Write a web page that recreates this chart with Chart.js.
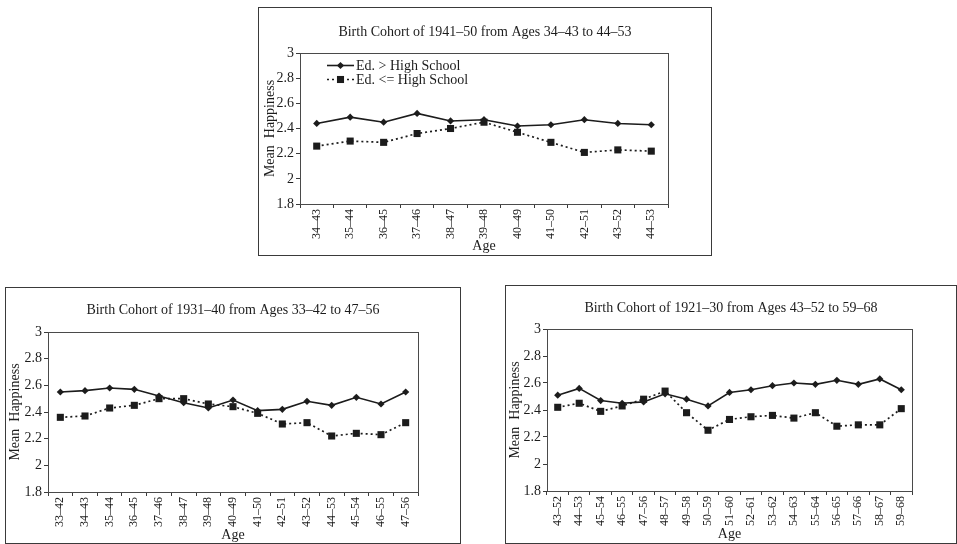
<!DOCTYPE html>
<html>
<head>
<meta charset="utf-8">
<title>Mean Happiness by Birth Cohort and Education</title>
<script src="https://cdn.jsdelivr.net/npm/chart.js@4.4.1/dist/chart.umd.min.js"></script>
<style>
  html, body { margin: 0; padding: 0; background: #fff; }
  body { width: 957px; height: 544px; position: relative; overflow: hidden; }
  .panel { position: absolute; border: 1px solid #3a3a3a; box-sizing: border-box; background: #fff; }
  .panel canvas { display: block; }
</style>
</head>
<body>

<div class="panel" style="left:258px; top:7px; width:454px; height:249px;">
  <canvas id="cohort1941" width="452" height="247"></canvas>
</div>
<div class="panel" style="left:5px; top:287px; width:456px; height:257px;">
  <canvas id="cohort1931" width="454" height="255"></canvas>
</div>
<div class="panel" style="left:505px; top:285px; width:452px; height:259px;">
  <canvas id="cohort1921" width="450" height="257"></canvas>
</div>

<script>
// Chart data
const seriesLabels = ['Ed. > High School', 'Ed. <= High School'];
const yTicks = [1.8, 2, 2.2, 2.4, 2.6, 2.8, 3];

const title1941 = 'Birth Cohort of 1941\u201350 from Ages 34\u201343 to 44\u201353';
const ages1941 = ['34\u201343', '35\u201344', '36\u201345', '37\u201346', '38\u201347', '39\u201348',
                  '40\u201349', '41\u201350', '42\u201351', '43\u201352', '44\u201353'];
const above1941 = [2.44, 2.49, 2.45, 2.52, 2.46, 2.47, 2.42, 2.43, 2.47, 2.44, 2.43];
const below1941 = [2.26, 2.30, 2.29, 2.36, 2.40, 2.45, 2.37, 2.29, 2.21, 2.23, 2.22];

const title1931 = 'Birth Cohort of 1931\u201340 from Ages 33\u201342 to 47\u201356';
const ages1931 = ['33\u201342', '34\u201343', '35\u201344', '36\u201345', '37\u201346', '38\u201347',
                  '39\u201348', '40\u201349', '41\u201350', '42\u201351', '43\u201352', '44\u201353',
                  '45\u201354', '46\u201355', '47\u201356'];
const above1931 = [2.55, 2.56, 2.58, 2.57, 2.52, 2.47, 2.43, 2.49, 2.41, 2.42, 2.48, 2.45, 2.51, 2.46, 2.55];
const below1931 = [2.36, 2.37, 2.43, 2.45, 2.50, 2.50, 2.46, 2.44, 2.39, 2.31, 2.32, 2.22, 2.24, 2.23, 2.32];

const title1921 = 'Birth Cohort of 1921\u201330 from Ages 43\u201352 to 59\u201368';
const ages1921 = ['43\u201352', '44\u201353', '45\u201354', '46\u201355', '47\u201356', '48\u201357',
                  '49\u201358', '50\u201359', '51\u201360', '52\u201361', '53\u201362', '54\u201363',
                  '55\u201364', '56\u201365', '57\u201366', '58\u201367', '59\u201368'];
const above1921 = [2.51, 2.56, 2.47, 2.45, 2.46, 2.52, 2.48, 2.43, 2.53, 2.55, 2.58, 2.60, 2.59, 2.62, 2.59, 2.63, 2.55];
const below1921 = [2.42, 2.45, 2.39, 2.43, 2.48, 2.54, 2.38, 2.25, 2.33, 2.35, 2.36, 2.34, 2.38, 2.28, 2.29, 2.29, 2.41];

const SERIF = '"Liberation Serif", "DejaVu Serif", serif';
const INK = '#1c1c1c';

// box round the plot area (the scan has a frame on all four sides)
const plotFrame = {
    id: 'plotFrame',
    afterDraw(chart) {
        const { ctx, chartArea: a } = chart;
        ctx.save();
        ctx.strokeStyle = '#4a4a4a';
        ctx.lineWidth = 1;
        ctx.strokeRect(Math.round(a.left) + 0.5, Math.round(a.top) + 0.5,
                       Math.round(a.right - a.left), Math.round(a.bottom - a.top));
        ctx.restore();
    }
};

// legend drawn inside the plot: short line with the marker on it, then the label
const insideLegend = {
    id: 'insideLegend',
    afterDatasetsDraw(chart, args, opts) {
        if (!opts.show) return;
        const { ctx, chartArea: a } = chart;
        ctx.save();
        chart.data.datasets.forEach((ds, i) => {
            const y = a.top + opts.rows[i];
            const x0 = a.left + opts.lineStart;
            const x1 = a.left + opts.lineEnd;
            ctx.strokeStyle = ds.borderColor;
            ctx.lineWidth = ds.borderWidth;
            ctx.setLineDash(ds.borderDash || []);
            ctx.beginPath();
            ctx.moveTo(x0, y);
            ctx.lineTo(x1, y);
            ctx.stroke();
            ctx.setLineDash([]);
            ctx.fillStyle = ds.pointBackgroundColor;
            Chart.helpers.drawPoint(ctx, {
                pointStyle: ds.pointStyle, radius: ds.pointRadius, rotation: 0, borderWidth: 0
            }, (x0 + x1) / 2, y);
            ctx.fillStyle = INK;
            ctx.font = '14px ' + SERIF;
            ctx.textBaseline = 'middle';
            ctx.textAlign = 'left';
            ctx.fillText(ds.label, a.left + opts.textStart, y + 1);
        });
        ctx.restore();
    }
};

function makeCohortChart(canvasId, title, ages, above, below, box) {
    const ctx = document.getElementById(canvasId).getContext('2d');
    return new Chart(ctx, {
        type: 'line',
        data: {
            labels: ages,
            datasets: [{
                label: seriesLabels[0],
                data: above,
                borderColor: INK,
                borderWidth: 1.6,
                pointStyle: 'rectRot',
                pointRadius: 3.6,
                pointBackgroundColor: INK,
                pointBorderWidth: 0,
                tension: 0
            }, {
                label: seriesLabels[1],
                data: below,
                borderColor: INK,
                borderWidth: 1.7,
                borderDash: [2, 3],
                pointStyle: 'rect',
                pointRadius: 5,
                pointBackgroundColor: INK,
                pointBorderWidth: 0,
                tension: 0
            }]
        },
        options: {
            responsive: false,
            animation: false,
            layout: { padding: 0 },
            plugins: {
                legend: { display: false },
                tooltip: { enabled: false },
                title: {
                    display: true,
                    text: title,
                    color: INK,
                    font: { family: SERIF, size: 14, weight: 'normal', lineHeight: 1.2 },
                    padding: { top: box.titleCenter - 8.4, bottom: box.plotTop - box.titleCenter - 8.4 }
                },
                insideLegend: box.legend || { show: false }
            },
            scales: {
                x: {
                    type: 'category',
                    offset: true,
                    afterFit: s => { s.height = box.xHeight; },
                    grid: {
                        display: true,
                        offset: true,
                        drawOnChartArea: false,
                        drawTicks: true,
                        tickLength: 4,
                        color: '#3a3a3a'
                    },
                    border: { display: true, color: '#3a3a3a' },
                    ticks: {
                        autoSkip: false,
                        minRotation: 90,
                        maxRotation: 90,
                        padding: 1,
                        color: INK,
                        font: { family: SERIF, size: 12 }
                    },
                    title: {
                        display: true,
                        text: 'Age',
                        color: INK,
                        padding: { top: 0, bottom: box.ageOffset - 8.4 },
                        font: { family: SERIF, size: 14, lineHeight: 1.2 }
                    }
                },
                y: {
                    min: 1.8,
                    max: 3,
                    afterFit: s => { s.width = box.yWidth; },
                    afterBuildTicks: s => { s.ticks = yTicks.map(v => ({ value: v })); },
                    grid: {
                        display: true,
                        drawOnChartArea: false,
                        drawTicks: true,
                        tickLength: 4,
                        color: '#3a3a3a'
                    },
                    border: { display: true, color: '#3a3a3a' },
                    ticks: {
                        padding: 2,
                        color: INK,
                        font: { family: SERIF, size: 14 },
                        callback: v => String(Number(v.toFixed(1)))
                    },
                    title: {
                        display: true,
                        text: 'Mean  Happiness',
                        color: INK,
                        padding: { top: box.yTitleOffset - 8.4, bottom: 0 },
                        font: { family: SERIF, size: 14, lineHeight: 1.2 }
                    }
                },
                // empty right-hand axis: keeps the white margin right of the plot
                // while the title stays centred on the whole panel
                yRight: {
                    position: 'right',
                    display: true,
                    min: 1.8,
                    max: 3,
                    afterFit: s => { s.width = box.padRight; },
                    grid: { display: false },
                    border: { display: false },
                    ticks: { display: false }
                }
            }
        },
        plugins: [plotFrame, insideLegend]
    });
}

makeCohortChart('cohort1941', title1941, ages1941, above1941, below1941, {
    yWidth: 41, padRight: 43, xHeight: 51, plotTop: 45, titleCenter: 24, ageOffset: 9, yTitleOffset: 11,
    legend: { show: true, lineStart: 27, lineEnd: 54, textStart: 56, rows: [12.5, 26.5] }
});
makeCohortChart('cohort1931', title1931, ages1931, above1931, below1931, {
    yWidth: 42, padRight: 42, xHeight: 51, plotTop: 44, titleCenter: 22, ageOffset: 8, yTitleOffset: 9
});
makeCohortChart('cohort1921', title1921, ages1921, above1921, below1921, {
    yWidth: 41, padRight: 44, xHeight: 52, plotTop: 43, titleCenter: 22, ageOffset: 9, yTitleOffset: 9
});
</script>
</body>
</html>
